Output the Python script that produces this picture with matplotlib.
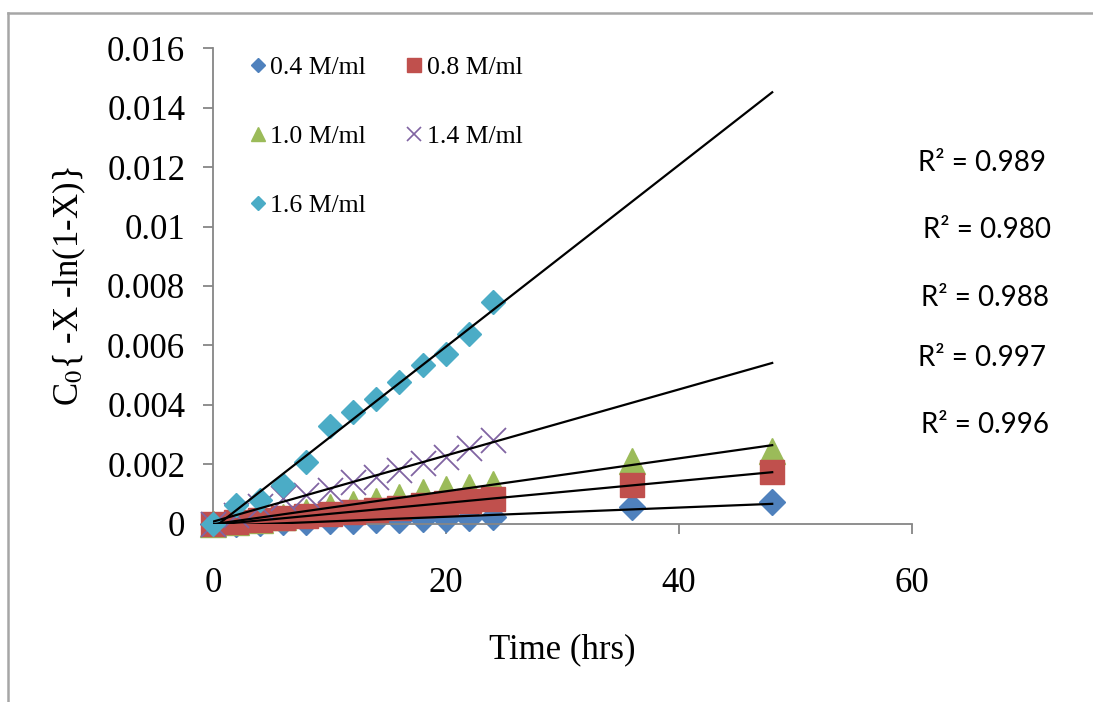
import numpy as np
import matplotlib
matplotlib.use('Agg')
import matplotlib.pyplot as plt
from matplotlib.lines import Line2D

# data
t_long = [0, 2, 4, 6, 8, 10, 12, 14, 16, 18, 20, 22, 24, 36, 48]
t_short = [0, 2, 4, 6, 8, 10, 12, 14, 16, 18, 20, 22, 24]

c04 = [0, 0.00001, 0.00003, 0.00005, 0.00007, 0.00009, 0.0001, 0.00012,
       0.00014, 0.00016, 0.00018, 0.0002, 0.00022, 0.00057, 0.00075]
c08 = [0, 0.00006, 0.00012, 0.0002, 0.00026, 0.00033, 0.0004, 0.00048,
       0.00055, 0.00063, 0.0007, 0.00077, 0.00084, 0.00131, 0.00176]
c10 = [0, 0.00005, 0.00012, 0.00024, 0.0004, 0.00057, 0.00067, 0.00078,
       0.00091, 0.00108, 0.00118, 0.00124, 0.00134, 0.00213, 0.00245]
c14 = [0, 0.0003, 0.0006, 0.00087, 0.00097, 0.00114, 0.00141, 0.00158,
       0.00182, 0.00205, 0.00225, 0.00255, 0.00282]
c16 = [0, 0.00065, 0.00082, 0.0013, 0.00208, 0.0033, 0.00376, 0.0042,
       0.00476, 0.00533, 0.0057, 0.00637, 0.00745]

labels = ['0.4 M/ml', '0.8 M/ml', '1.0 M/ml', '1.4 M/ml', '1.6 M/ml']
r2_labels = ['0.989', '0.980', '0.988', '0.997', '0.996']

x_ticks = [0, 20, 40, 60]
y_ticks = [0, 0.002, 0.004, 0.006, 0.008, 0.01, 0.012, 0.014, 0.016]
y_tick_labels = ['0', '0.002', '0.004', '0.006', '0.008', '0.01', '0.012', '0.014', '0.016']

plt.rcParams['font.family'] = ['Liberation Serif', 'DejaVu Serif']
plt.rcParams['mathtext.fontset'] = 'stix'

fig = plt.figure(figsize=(10.93, 7.02), dpi=100)
ax = fig.add_axes([0.1949, 0.2536, 0.6395, 0.678])

series = [
    (t_long, c04, 'D', '#4F81BD', 13, 2),
    (t_long, c08, 's', '#C0504D', 17.5, 4),
    (t_long, c10, '^', '#9BBB59', 19, 3),
    (t_short, c14, 'x', '#8064A2', 18, 5),
    (t_short, c16, 'D', '#4BACC6', 12.5, 6),
]

handles = []
for (t, c, mk, col, ms, z), lab in zip(series, labels):
    if mk == 'x':
        ax.plot(t, c, ls='none', marker=mk, ms=ms, mec=col, mew=1.3,
                clip_on=False, zorder=z)
        h = Line2D([], [], ls='none', marker=mk, ms=10, mec=col, mew=1.2)
    else:
        ax.plot(t, c, ls='none', marker=mk, ms=ms, mfc=col, mec=col,
                clip_on=False, zorder=z)
        h = Line2D([], [], ls='none', marker=mk, ms=7 if mk == 'D' else 10,
                   mfc=col, mec=col)
    handles.append(h)

    # linear trend line, extended to 48 hrs
    slope, icpt = np.polyfit(t, c, 1)
    xl = np.array([0, 48])
    ax.plot(xl, icpt + slope * xl, color='black', lw=1.6, zorder=10)

# axes styling
ax.set_xlim(0, 60)
ax.set_ylim(0, 0.016)
ax.set_xticks(x_ticks)
ax.set_yticks(y_ticks)
ax.set_yticklabels(y_tick_labels)
for s in ['top', 'right']:
    ax.spines[s].set_visible(False)
for s in ['left', 'bottom']:
    ax.spines[s].set_color('#868686')
    ax.spines[s].set_linewidth(1.3)
ax.tick_params(axis='both', colors='#868686', labelcolor='black',
               labelsize=25, length=7, width=1.3)
ax.tick_params(axis='y', pad=13)
ax.tick_params(axis='x', pad=24)

ax.set_xlabel('Time (hrs)', fontsize=25, labelpad=24)
ax.set_ylabel('C$_0${ -X -ln(1-X)}', fontsize=25, labelpad=14)

# legend laid out row-wise
order = [0, 2, 4, 1, 3]
ax.legend([handles[i] for i in order], [labels[i] for i in order],
          ncol=2, frameon=False, fontsize=18.5, loc='upper left',
          bbox_to_anchor=(0.218, 0.939), bbox_transform=fig.transFigure,
          handlelength=0.5, handletextpad=0.25, columnspacing=1.6,
          labelspacing=1.8, borderpad=0)

# R-squared labels
r2_y = [163, 230, 298, 358, 425]
r2_x = [918, 923, 921, 918, 921]
for lab, yy, xx in zip(r2_labels, r2_y, r2_x):
    fig.text(xx / 1093, 1 - yy / 702, 'R\u00b2 = ' + lab, fontsize=20,
             family=['Lato', 'DejaVu Sans'], ha='left', va='center')

# grey outer frame (top and left edges)
fig.add_artist(Line2D([8 / 1093, 1], [1 - 12.5 / 702, 1 - 12.5 / 702],
                      color='#a6a6a6', lw=1.8, transform=fig.transFigure))
fig.add_artist(Line2D([8 / 1093, 8 / 1093], [0, 1 - 12.5 / 702],
                      color='#a6a6a6', lw=1.8, transform=fig.transFigure))

fig.savefig('out.png', dpi=100)
